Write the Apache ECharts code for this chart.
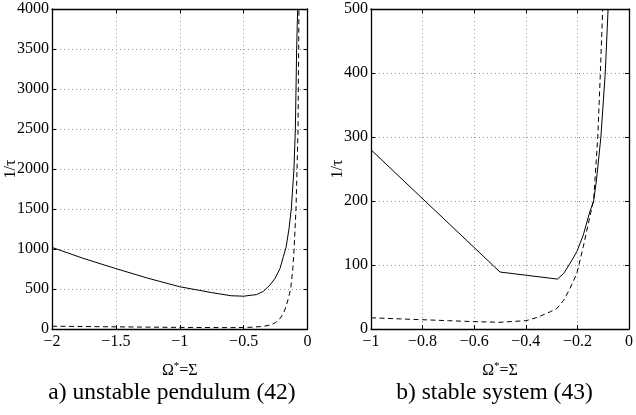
<!DOCTYPE html>
<html><head><meta charset="utf-8">
<script src="https://cdn.jsdelivr.net/npm/echarts@6/dist/echarts.min.js"></script>
<style>html,body{margin:0;padding:0;background:#fff}#c{width:636px;height:415px}</style>
</head><body><div id="c"></div>
<script>
// Left panel: unstable pendulum (42)
const leftSolidX = [-2,-1.75,-1.5,-1.25,-1,-0.75,-0.6,-0.5,-0.4,-0.346,-0.294,-0.254,-0.215,-0.189,-0.168,-0.145,-0.127,-0.106,-0.095,-0.09,-0.085,-0.077];
const leftSolidY = [1020,880,755,635,528,455,416,410,430,470,550,633,758,904,1020,1250,1500,2000,2500,3000,3500,4000];
const leftDashX = [-2,-1.5,-1,-0.6,-0.45,-0.35,-0.29,-0.25,-0.22,-0.19,-0.175,-0.15,-0.132,-0.115,-0.105,-0.09,-0.082,-0.074,-0.072,-0.069,-0.067];
const leftDashY = [35,27,20,17,21,32,50,80,120,190,250,380,500,750,1000,1500,2000,2500,3000,3500,4000];
// Right panel: stable system (43)
const rightSolidX = [-1,-0.5,-0.277,-0.253,-0.228,-0.202,-0.177,-0.152,-0.137,-0.126,-0.109,-0.092,-0.081];
const rightSolidY = [280,89,78,87,103,121,147,183,200,233,300,400,500];
const rightDashX = [-1,-0.9,-0.8,-0.7,-0.6,-0.5,-0.4,-0.356,-0.305,-0.28,-0.253,-0.228,-0.202,-0.177,-0.152,-0.137,-0.121,-0.111,-0.102];
const rightDashY = [17.5,16,14.5,13,11.5,10.5,13,18,27,32,45,64,87,129,175,202,300,400,500];

const leftXTicks = {min:-2, max:0, interval:0.5};
const leftYTicks = {min:0, max:4000, interval:500};
const rightXTicks = {min:-1, max:0, interval:0.2};
const rightYTicks = {min:0, max:500, interval:100};

const captions = ['a) unstable pendulum (42)', 'b) stable system (43)'];
const xName = ['Ω', '*', '=Σ'];
const yName = '1/τ';

const zip = (xs, ys) => xs.map((x, i) => [x, ys[i]]);
const FONT = 'Liberation Serif';
const fmt = v => {
  if (Math.abs(v) < 1e-9) return '0';
  let s = String(Math.round(v * 1000) / 1000);
  return s.replace('-', '\u2212');
};
const grids = [
  {left: 52, top: 9, width: 255.5, height: 320},
  {left: 371, top: 9, width: 262.5, height: 320}
];
const AX = {color: '#000', width: 1.3};
function xAxes(gi, t) {
  return [{
    type: 'value', gridIndex: gi, position: 'bottom', min: t.min, max: t.max, interval: t.interval,
    axisLine: {show: true, onZero: false, lineStyle: AX},
    axisTick: {show: true, inside: true, length: 4, lineStyle: {color: '#000'}},
    axisLabel: {color: '#000', fontFamily: FONT, fontSize: 16, margin: 5, formatter: fmt, showMinLabel: true, showMaxLabel: true},
    splitLine: {show: true, lineStyle: {color: '#999', type: [1, 3], width: 1}},
    name: '{a|' + xName[0] + '}{s|' + xName[1] + '}{a|' + xName[2] + '}',
    nameLocation: 'middle', nameGap: 32, nameMoveOverlap: false,
    nameTextStyle: {rich: {a: {fontFamily: FONT, fontSize: 16, color: '#000'}, s: {fontFamily: FONT, fontSize: 11, color: '#000', verticalAlign: 'top', padding: [0, 0, 8, 0]}}}
  }, {
    type: 'value', gridIndex: gi, position: 'top', min: t.min, max: t.max, interval: t.interval,
    axisLine: {show: true, onZero: false, lineStyle: AX},
    axisTick: {show: true, inside: true, length: 4, lineStyle: {color: '#000'}},
    axisLabel: {show: false}, splitLine: {show: false}
  }];
}
function yAxes(gi, t, gap) {
  return [{
    type: 'value', gridIndex: gi, position: 'left', min: t.min, max: t.max, interval: t.interval,
    axisLine: {show: true, onZero: false, lineStyle: AX},
    axisTick: {show: true, inside: true, length: 4, lineStyle: {color: '#000'}},
    axisLabel: {color: '#000', fontFamily: FONT, fontSize: 16, margin: 3, formatter: fmt},
    splitLine: {show: true, lineStyle: {color: '#999', type: [1, 3], width: 1}},
    name: yName, nameLocation: 'middle', nameGap: gap, nameRotate: 90, nameMoveOverlap: false,
    nameTextStyle: {fontFamily: FONT, fontSize: 16, color: '#000'}
  }, {
    type: 'value', gridIndex: gi, position: 'right', min: t.min, max: t.max, interval: t.interval,
    axisLine: {show: true, onZero: false, lineStyle: AX},
    axisTick: {show: true, inside: true, length: 4, lineStyle: {color: '#000'}},
    axisLabel: {show: false}, splitLine: {show: false}
  }];
}
function line(xi, yi, data, dashed) {
  return {type: 'line', xAxisIndex: xi, yAxisIndex: yi, data: data, showSymbol: false, symbol: 'none',
    smooth: false, clip: true, animation: false,
    lineStyle: {color: '#000', width: 1, type: dashed ? [5, 3.5] : 'solid'}};
}
const chart = echarts.init(document.getElementById('c'), null, {renderer: 'canvas'});
chart.setOption({
  animation: false,
  backgroundColor: '#fff',
  grid: grids,
  xAxis: [...xAxes(0, leftXTicks), ...xAxes(1, rightXTicks)],
  yAxis: [...yAxes(0, leftYTicks, 33), ...yAxes(1, rightYTicks, 25)],
  series: [
    line(0, 0, zip(leftSolidX, leftSolidY), false),
    line(0, 0, zip(leftDashX, leftDashY), true),
    line(2, 2, zip(rightSolidX, rightSolidY), false),
    line(2, 2, zip(rightDashX, rightDashY), true)
  ],
  graphic: [
    {type: 'text', x: 172, y: 393, style: {text: captions[0], font: '23.5px "Liberation Serif"', fill: '#000', textAlign: 'center', textVerticalAlign: 'middle'}},
    {type: 'text', x: 494.5, y: 393, style: {text: captions[1], font: '23.5px "Liberation Serif"', fill: '#000', textAlign: 'center', textVerticalAlign: 'middle'}}
  ]
});
</script></body></html>
